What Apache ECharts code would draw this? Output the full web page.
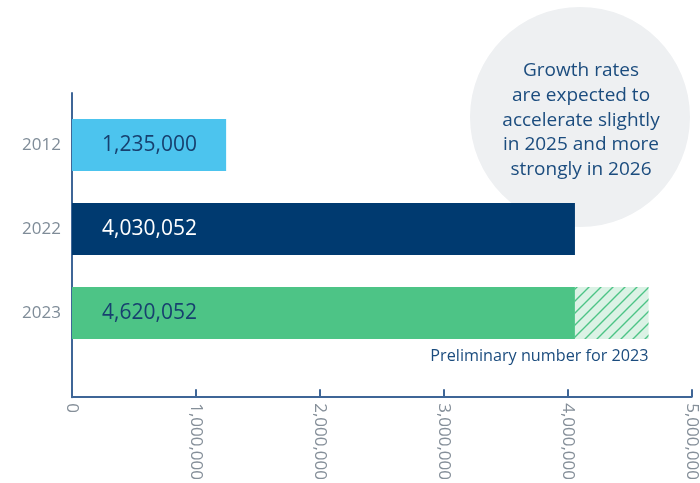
<!DOCTYPE html>
<html>
<head>
<meta charset="utf-8">
<script src="https://cdn.jsdelivr.net/npm/echarts@6/dist/echarts.min.js"></script>
<style>html,body{margin:0;padding:0;background:#fff}#c{width:700px;height:483px}</style>
</head>
<body>
<div id="c"></div>
<script>
const categories = ['2012', '2022', '2023'];
const confirmedValues = [1235000, 4030052, 4030052];
const preliminaryValues = [0, 0, 590000];
const barColors = ['#4cc4ee', '#003a70', '#4dc486'];
const barLabelColors = ['#17406f', '#ffffff', '#17406f'];
const axisMin = 0, axisMax = 5000000, axisStep = 1000000;
const noteText = 'Growth rates\nare expected to\naccelerate slightly\nin 2025 and more\nstrongly in 2026';
const prelimText = 'Preliminary number for 2023';

const FONT = 'Open Sans';
const AXIS = '#3f6697';

function hatch() {
  const s = 12, c = document.createElement('canvas');
  c.width = s; c.height = s;
  const g = c.getContext('2d');
  g.fillStyle = '#dbf2e5'; g.fillRect(0, 0, s, s);
  g.strokeStyle = '#4dc486'; g.lineWidth = 1.4;
  g.beginPath();
  g.moveTo(0, s); g.lineTo(s, 0);
  g.moveTo(-2, 2); g.lineTo(2, -2);
  g.moveTo(s - 2, s + 2); g.lineTo(s + 2, s - 2);
  g.stroke();
  return c;
}
const fmt = v => v.toLocaleString('en-US');

const chart = echarts.init(document.getElementById('c'));
chart.setOption({
  animation: false,
  textStyle: { fontFamily: FONT },
  graphic: [
    { type: 'circle', z: 0, shape: { cx: 580, cy: 117, r: 110 }, style: { fill: '#eef0f2' } },
    { type: 'text', z: 1, x: 581, y: 58.5, style: { text: noteText, fill: '#1b4c7e', font: '19px "' + FONT + '"', textAlign: 'center', lineHeight: 24.7 } }
  ],
  grid: [
    { left: 72, right: 4, top: 93, bottom: 85 },
    { left: 72, right: 4, top: 103, height: 252 }
  ],
  xAxis: [
    { gridIndex: 0, type: 'value', min: axisMin, max: axisMax, interval: axisStep,
      axisLine: { show: true, lineStyle: { color: AXIS, width: 2 } },
      axisTick: { show: true, inside: true, length: 8, lineStyle: { color: AXIS, width: 2 } },
      splitLine: { show: false },
      axisLabel: { rotate: -90, margin: 6, color: '#858f99', fontSize: 17, formatter: v => fmt(v) } },
    { gridIndex: 1, type: 'value', min: axisMin, max: axisMax, show: false }
  ],
  yAxis: [
    { gridIndex: 0, type: 'category', data: categories,
      axisLine: { show: true, lineStyle: { color: AXIS, width: 2 } },
      axisTick: { show: false }, axisLabel: { show: false } },
    { gridIndex: 1, type: 'category', data: categories, inverse: true,
      axisLine: { show: false }, axisTick: { show: false },
      axisLabel: { margin: 11, color: '#7f8c98', fontSize: 17 } }
  ],
  series: [
    { type: 'bar', xAxisIndex: 1, yAxisIndex: 1, stack: 'a', barWidth: 52,
      data: confirmedValues.map((v, i) => ({
        value: v,
        itemStyle: { color: barColors[i] },
        label: { color: barLabelColors[i] }
      })),
      label: { show: true, position: 'insideLeft', distance: 30, fontSize: 21,
        formatter: p => fmt(confirmedValues[p.dataIndex] + preliminaryValues[p.dataIndex]) } },
    { type: 'bar', xAxisIndex: 1, yAxisIndex: 1, stack: 'a', barWidth: 52,
      itemStyle: { color: { image: hatch(), repeat: 'repeat' } },
      data: preliminaryValues.map((v, i) => ({
        value: v,
        label: v > 0 ? { show: true, position: ['100%', '100%'], align: 'right', verticalAlign: 'top',
          offset: [0, 9], formatter: prelimText, color: '#1b4c7e', fontSize: 16.2 } : { show: false }
      })) }
  ]
});
</script>
</body>
</html>
